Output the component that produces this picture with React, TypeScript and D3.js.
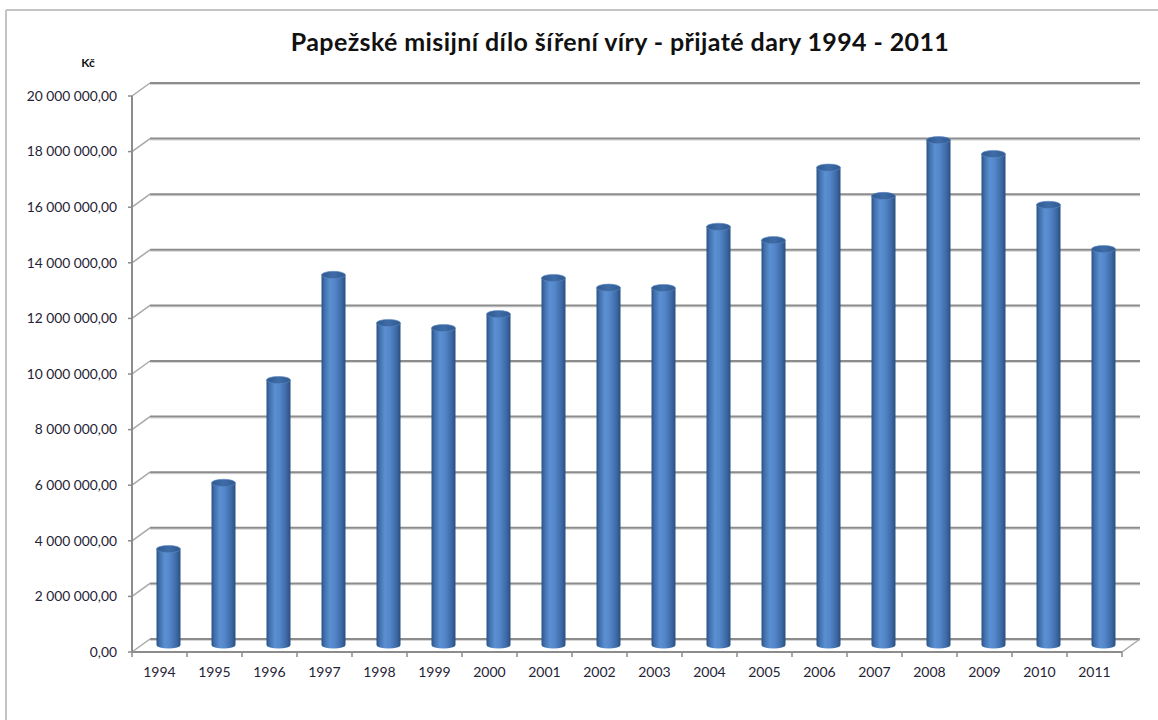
import React from "react";
import * as d3 from "d3";

const years = [
  "1994", "1995", "1996", "1997", "1998", "1999", "2000", "2001", "2002",
  "2003", "2004", "2005", "2006", "2007", "2008", "2009", "2010", "2011",
];

const donations = [
  3470000, 5850000, 9550000, 13330000, 11600000, 11420000, 11920000, 13220000,
  12870000, 12860000, 15060000, 14580000, 17190000, 16170000, 18180000,
  17680000, 15850000, 14260000,
];

const yTicks = [0, 2e6, 4e6, 6e6, 8e6, 10e6, 12e6, 14e6, 16e6, 18e6, 20e6];

const title = "Papežské misijní dílo šíření víry - přijaté dary 1994 - 2011";
const unit = "Kč";

const W = 1158;
const H = 720;
const left = 132;
const right = 1122;
const bottom = 652;
const top = 96;
// 3d depth offset of the back wall
const dx = 18;
const dy = -13;

const fmt = (v: number) => {
  const s = Math.round(v).toString().replace(/\B(?=(\d{3})+(?!\d))/g, " ");
  return s + ",00";
};

function App() {
  const x = d3.scaleBand<string>().domain(years).range([left, right]).padding(0);
  const y = d3.scaleLinear().domain([0, 20e6]).range([bottom, top]);
  const bw = x.bandwidth();
  const rx = 12;
  const ry = 3.6;
  const font = "Lato, 'Open Sans', sans-serif";
  const grid = "#8c8c8c";

  return (
    <svg
      width={W}
      height={H}
      style={{ position: "absolute", left: 0, top: 0, background: "#fff" }}
      fontFamily={font}
    >
      <defs>
        <linearGradient id="cyl" x1="0" x2="1" y1="0" y2="0">
          <stop offset="0%" stopColor="#2b5283" />
          <stop offset="12%" stopColor="#3f6eab" />
          <stop offset="35%" stopColor="#5b90d2" />
          <stop offset="55%" stopColor="#5487ca" />
          <stop offset="82%" stopColor="#3e6ba8" />
          <stop offset="100%" stopColor="#2a4f80" />
        </linearGradient>
        <linearGradient id="cap" x1="0" x2="1" y1="0" y2="0">
          <stop offset="0%" stopColor="#2f5a90" />
          <stop offset="50%" stopColor="#3f6ca8" />
          <stop offset="100%" stopColor="#2f5a90" />
        </linearGradient>
      </defs>

      {/* outer frame */}
      <line x1={6} x2={W} y1={10} y2={10} stroke="#c4c4c4" strokeWidth={2} />
      <line x1={6} x2={6} y1={10} y2={H} stroke="#c4c4c4" strokeWidth={2} />

      <text
        x={620}
        y={51}
        textAnchor="middle"
        fontSize={25}
        letterSpacing={0.4}
        fontWeight="bold"
        fill="#111"
      >
        {title}
      </text>
      <text x={88} y={67} textAnchor="middle" fontSize={12} fontWeight="bold" fill="#111">
        {unit}
      </text>

      {/* back wall gridlines with depth connectors */}
      {yTicks.map((t) => (
        <g key={t}>
          <line
            x1={left + dx}
            x2={right + dx}
            y1={y(t) + dy + 1.5}
            y2={y(t) + dy + 1.5}
            stroke="#d6d6d6"
            strokeWidth={1}
          />
          <line
            x1={left + dx}
            x2={right + dx}
            y1={y(t) + dy}
            y2={y(t) + dy}
            stroke={grid}
            strokeWidth={2}
          />
          <line
            x1={left}
            x2={left + dx}
            y1={y(t)}
            y2={y(t) + dy}
            stroke="#a8a8a8"
            strokeWidth={1.5}
          />
          <line x1={left - 4} x2={left} y1={y(t)} y2={y(t)} stroke={grid} strokeWidth={1.5} />
          <text
            x={117}
            y={y(t)}
            dy="0.35em"
            textAnchor="end"
            fontSize={13.8}
            fill="#1f2436"
          >
            {fmt(t)}
          </text>
        </g>
      ))}

      {/* side wall front edge and floor */}
      <line x1={left} x2={left} y1={y(20e6)} y2={bottom} stroke={grid} strokeWidth={2} />
      <line x1={left} x2={right} y1={bottom} y2={bottom} stroke={grid} strokeWidth={2} />
      <line
        x1={right}
        x2={right + dx}
        y1={bottom}
        y2={bottom + dy}
        stroke="#a8a8a8"
        strokeWidth={1.5}
      />
      {years.concat(["end"]).map((yr, i) => {
        const xx = left + i * bw;
        return (
          <line key={yr} x1={xx} x2={xx} y1={bottom} y2={bottom + 5} stroke={grid} strokeWidth={1.5} />
        );
      })}

      {/* cylinders */}
      {years.map((yr, i) => {
        const cx = (x(yr) as number) + bw / 2 + dx / 2;
        const yb = y(0) + dy / 2 - 0.5;
        const yt = y(donations[i]) + dy / 2;
        const x0 = cx - rx;
        const x1 = cx + rx;
        return (
          <g key={yr}>
            <path
              d={`M${x0},${yt} L${x0},${yb} A${rx},${ry} 0 0 0 ${x1},${yb} L${x1},${yt} Z`}
              fill="url(#cyl)"
            />
            <ellipse cx={cx} cy={yt} rx={rx} ry={ry} fill="url(#cap)" stroke="#5a86c0" strokeWidth={0.6} />
          </g>
        );
      })}

      {years.map((yr) => (
        <text
          key={yr}
          x={(x(yr) as number) + bw / 2}
          y={677}
          textAnchor="middle"
          fontSize={14}
          fill="#1f2436"
        >
          {yr}
        </text>
      ))}
    </svg>
  );
}

export default App;
